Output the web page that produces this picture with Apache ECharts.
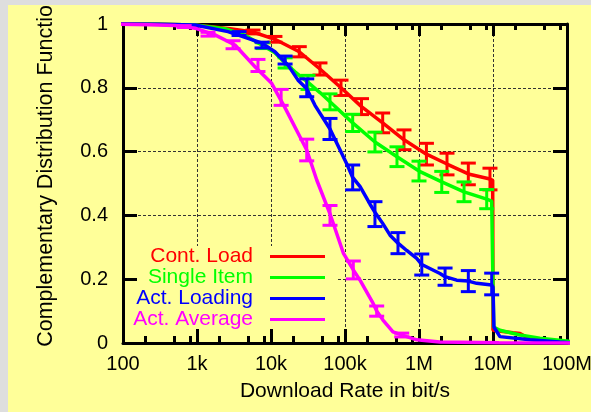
<!DOCTYPE html>
<html><head><meta charset="utf-8">
<script src="https://cdn.jsdelivr.net/npm/echarts@6/dist/echarts.min.js"></script>
<style>
html,body{margin:0;padding:0;background:#dedede;width:591px;height:412px;overflow:hidden}
#c{position:absolute;left:8px;top:5px;width:583px;height:407px}
</style></head>
<body><div id="c"></div>
<script>
// ---- data ----
const seriesNames = ['Cont. Load', 'Single Item', 'Act. Loading', 'Act. Average'];
const seriesColors = ['#ff0000', '#00ff00', '#0000ff', '#ff00ff'];
const xTickLabels = ['100', '1k', '10k', '100k', '1M', '10M', '100M'];
const minorTickValues = [200, 500, 800, 2000, 5000, 8000, 20000, 50000, 80000, 200000, 500000, 800000,
  2e6, 5e6, 8e6, 2e7, 5e7, 8e7];

const redX = [75, 300, 940, 2790, 5710, 11300, 24100, 45900, 88300, 167000, 323000, 627000, 1.26e6, 2.39e6, 4.64e6, 9.1e6, 9.9e6, 1.0e7, 1.45e7, 1.86e7, 2.32e7, 3.16e7, 5.0e7, 1.28e8];
const redY = [1.0, 0.999, 0.997, 0.985, 0.975, 0.952, 0.913, 0.859, 0.80, 0.741, 0.69, 0.637, 0.592, 0.561, 0.53, 0.514, 0.51, 0.04, 0.035, 0.032, 0.03, 0.012, 0.005, 0];
const redBarX = [5710, 11300, 24100, 45900, 88300, 167000, 323000, 627000, 1.26e6, 2.39e6, 4.64e6, 9.1e6];
const redBarY = [0.975, 0.952, 0.913, 0.859, 0.80, 0.741, 0.69, 0.637, 0.592, 0.561, 0.53, 0.514];
const redBarErr = [0.006, 0.009, 0.016, 0.019, 0.024, 0.025, 0.031, 0.031, 0.034, 0.034, 0.034, 0.034];

const greenX = [75, 300, 940, 2390, 4450, 7800, 11300, 15500, 21100, 31600, 45900, 62700, 127000, 254000, 504000, 1.0e6, 2.03e6, 4.06e6, 8.22e6, 9.6e6, 1.0e7, 1.02e7, 1.24e7, 2.32e7, 4.3e7, 9.9e7, 1.28e8];
const greenY = [1.0, 0.999, 0.997, 0.985, 0.965, 0.932, 0.91, 0.878, 0.85, 0.817, 0.785, 0.756, 0.69, 0.63, 0.584, 0.539, 0.505, 0.474, 0.451, 0.445, 0.44, 0.05, 0.04, 0.025, 0.015, 0.006, 0.003];
const greenBarX = [7800, 15500, 31600, 62700, 127000, 254000, 504000, 1.0e6, 2.03e6, 4.06e6, 8.22e6];
const greenBarY = [0.932, 0.878, 0.817, 0.756, 0.69, 0.63, 0.584, 0.539, 0.505, 0.474, 0.451];
const greenBarErr = [0.009, 0.016, 0.022, 0.025, 0.027, 0.031, 0.031, 0.031, 0.033, 0.031, 0.03];

const blueX = [75, 300, 940, 2620, 4890, 7560, 11300, 17000, 23200, 30400, 39300, 62700, 105000, 127000, 160000, 218000, 254000, 323000, 406000, 520000, 682000, 931000, 1.09e6, 1.92e6, 2.25e6, 3.23e6, 4.64e6, 6.02e6, 9.6e6, 1.0e7, 1.03e7, 1.24e7, 3.16e7, 8.0e7, 1.28e8];
const blueY = [1.0, 0.999, 0.997, 0.976, 0.955, 0.94, 0.913, 0.871, 0.824, 0.797, 0.745, 0.671, 0.563, 0.519, 0.49, 0.435, 0.41, 0.375, 0.338, 0.313, 0.29, 0.265, 0.246, 0.218, 0.208, 0.197, 0.194, 0.187, 0.182, 0.175, 0.05, 0.02, 0.01, 0.003, 0];
const blueBarX = [3700, 7560, 15500, 30400, 62700, 127000, 254000, 520000, 1.09e6, 2.25e6, 4.64e6, 9.6e6];
const blueBarY = [0.97, 0.934, 0.887, 0.80, 0.671, 0.519, 0.404, 0.313, 0.246, 0.208, 0.194, 0.185];
const blueBarErr = [0.006, 0.009, 0.0125, 0.028, 0.033, 0.039, 0.039, 0.033, 0.033, 0.027, 0.033, 0.034];

const magX = [75, 230, 500, 940, 1750, 3260, 6080, 10200, 15500, 30400, 41500, 62700, 94900, 129500, 159500, 239000, 268000, 326000, 445000, 682000, 931000, 1.92e6, 1.2e7, 1.28e8];
const magY = [1.0, 0.998, 0.995, 0.987, 0.966, 0.934, 0.866, 0.814, 0.737, 0.605, 0.511, 0.405, 0.282, 0.229, 0.197, 0.125, 0.100, 0.072, 0.035, 0.020, 0.010, 0.003, 0.001, 0];
const magBarX = [670, 1410, 3070, 6670, 13700, 30400, 62700, 129500, 268000, 584000];
const magBarY = [0.992, 0.968, 0.935, 0.87, 0.77, 0.605, 0.40, 0.229, 0.10, 0.025];
const magBarErr = [0.003, 0.006, 0.0125, 0.019, 0.025, 0.034, 0.031, 0.028, 0.016, 0.006];

// ---- chart ----
const FONT = '"Liberation Sans", Arial, Helvetica, sans-serif';
const BG = '#ffff99';
const lines = [[redX, redY], [greenX, greenY], [blueX, blueY], [magX, magY]];
const bars = [[redBarX, redBarY, redBarErr], [greenBarX, greenBarY, greenBarErr],
  [blueBarX, blueBarY, blueBarErr], [magBarX, magBarY, magBarErr]];

function errRenderer(color) {
  return function (params, api) {
    const x = api.value(0);
    const lo = api.coord([x, api.value(1)]);
    const hi = api.coord([x, api.value(2)]);
    const hw = 7.5;
    const st = { stroke: color, lineWidth: 3, fill: null };
    return { type: 'group', children: [
      { type: 'line', shape: { x1: lo[0], y1: lo[1], x2: hi[0], y2: hi[1] }, style: st },
      { type: 'line', shape: { x1: lo[0] - hw, y1: lo[1], x2: lo[0] + hw, y2: lo[1] }, style: st },
      { type: 'line', shape: { x1: hi[0] - hw, y1: hi[1], x2: hi[0] + hw, y2: hi[1] }, style: st }
    ] };
  };
}

const series = [];
seriesNames.forEach(function (name, i) {
  const [xs, ys] = lines[i];
  series.push({
    type: 'line', name: name, xAxisIndex: 0, yAxisIndex: 0,
    data: xs.map((x, k) => [x, ys[k]]),
    color: seriesColors[i], symbol: 'none', clip: false, z: 10 + 2 * i,
    lineStyle: { width: 3.5, color: seriesColors[i] }, animation: false
  });
  const [bx, by, be] = bars[i];
  series.push({
    type: 'custom', name: name + ' err', xAxisIndex: 0, yAxisIndex: 0,
    data: bx.map((x, k) => [x, by[k] - be[k], by[k] + be[k]]),
    encode: { x: 0, y: [1, 2] }, renderItem: errRenderer(seriesColors[i]),
    z: 11 + 2 * i, clip: false, animation: false
  });
});

const blk = '#000';
const gridPos = { left: 115, right: 24, top: 19, bottom: 69, containLabel: false, outerBoundsMode: 'none' };
const option = {
  backgroundColor: BG,
  animation: false,
  grid: [Object.assign({}, gridPos), Object.assign({}, gridPos)],
  xAxis: [
    { type: 'log', logBase: 10, min: 100, max: 1e8, gridIndex: 0, position: 'bottom', z: 5,
      name: 'Download Rate in bit/s', nameLocation: 'middle', nameGap: 38,
      nameTextStyle: { fontFamily: FONT, fontSize: 21, color: blk },
      axisLine: { show: true, onZero: false, lineStyle: { color: blk, width: 3 } },
      axisTick: { show: true, inside: true, length: 14, lineStyle: { color: blk, width: 3 } },
      axisLabel: { show: true, margin: 11, fontFamily: FONT, fontSize: 20, color: blk,
        formatter: v => xTickLabels[Math.round(Math.log10(v)) - 2] },
      splitLine: { show: false }, minorTick: { show: false } },
    { type: 'log', logBase: 10, min: 100, max: 1e8, gridIndex: 0, position: 'top', z: 0,
      axisLine: { show: true, onZero: false, lineStyle: { color: blk, width: 3 } },
      axisTick: { show: true, inside: true, length: 12, lineStyle: { color: blk, width: 3 } },
      axisLabel: { show: false },
      splitLine: { show: true, lineStyle: { color: '#333', width: 1, type: [3, 2] } } },
    { type: 'log', logBase: 10, min: 100, max: 1e8, gridIndex: 1, position: 'bottom', z: 5,
      axisLine: { show: false },
      axisTick: { show: true, inside: true, length: 7, customValues: minorTickValues, lineStyle: { color: blk, width: 3 } },
      axisLabel: { show: false }, splitLine: { show: false } },
    { type: 'log', logBase: 10, min: 100, max: 1e8, gridIndex: 1, position: 'top', z: 0,
      axisLine: { show: false },
      axisTick: { show: true, inside: true, length: 6, customValues: minorTickValues, lineStyle: { color: blk, width: 3 } },
      axisLabel: { show: false }, splitLine: { show: false } }
  ],
  yAxis: [
    { type: 'value', min: 0, max: 1, interval: 0.2, gridIndex: 0, position: 'left', z: 5,
      name: 'Complementary Distribution Function', nameLocation: 'middle', nameGap: 66,
      nameTextStyle: { fontFamily: FONT, fontSize: 21.5, color: blk, padding: [0, 0, 0, 27] },
      axisLine: { show: true, onZero: false, lineStyle: { color: blk, width: 3 } },
      axisTick: { show: true, inside: true, length: 14, lineStyle: { color: blk, width: 3 } },
      axisLabel: { show: true, margin: 15, fontFamily: FONT, fontSize: 20, color: blk },
      splitLine: { show: false } },
    { type: 'value', min: 0, max: 1, interval: 0.2, gridIndex: 0, position: 'right', z: 0,
      axisLine: { show: true, onZero: false, lineStyle: { color: blk, width: 3 } },
      axisTick: { show: true, inside: true, length: 14, lineStyle: { color: blk, width: 3 } },
      axisLabel: { show: false },
      splitLine: { show: true, lineStyle: { color: '#333', width: 1, type: [3, 2] } } },
    { type: 'value', min: 0, max: 1, gridIndex: 1, show: false }
  ],
  legend: {
    data: seriesNames.map((n, i) => ({ name: n, textStyle: { color: seriesColors[i] } })),
    orient: 'vertical', align: 'right', right: 254, top: 241,
    padding: [0, 12, 16, 8], itemGap: 0, itemWidth: 55, itemHeight: 3, icon: 'rect',
    backgroundColor: BG, z: 3, selectedMode: false,
    itemStyle: { borderWidth: 0 },
    textStyle: { fontFamily: FONT, fontSize: 21, lineHeight: 20, padding: [0, 12, 0, 0] }
  },
  series: series
};

const chart = echarts.init(document.getElementById('c'), null, { renderer: 'canvas' });
chart.setOption(option);
</script></body></html>
